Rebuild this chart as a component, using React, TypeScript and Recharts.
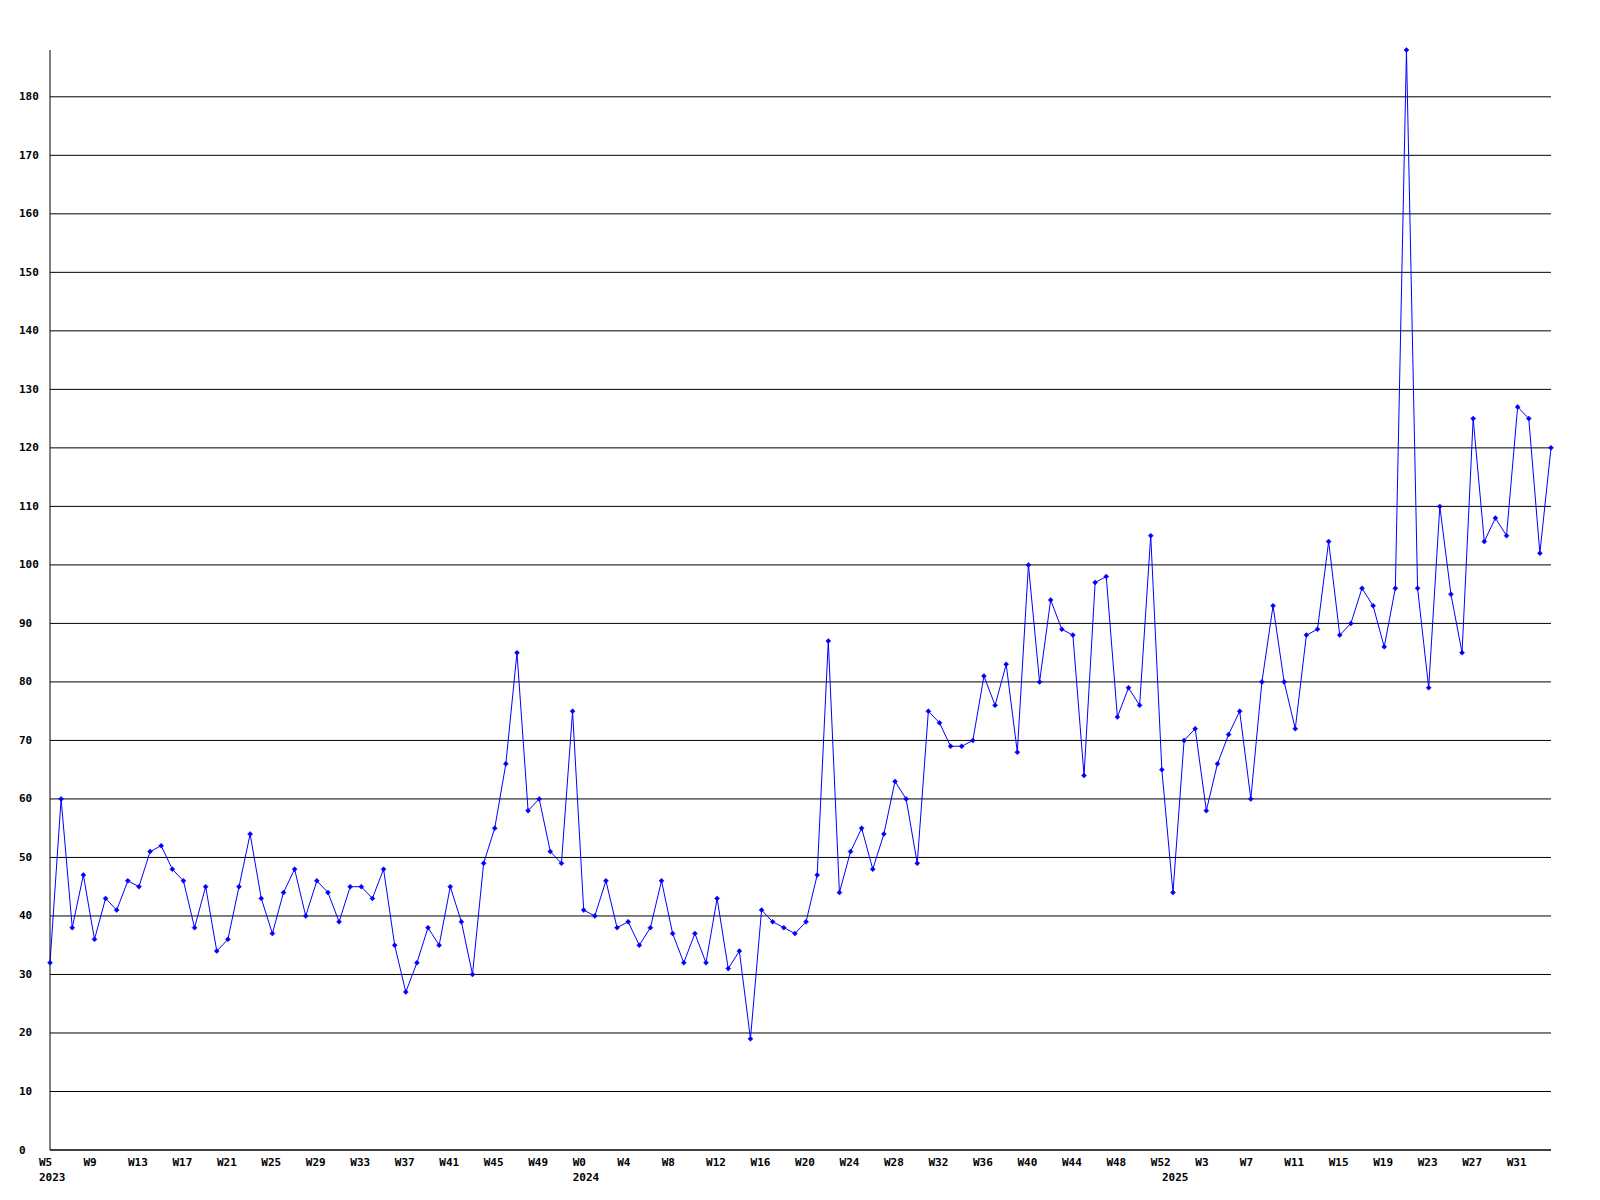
import React from "react";
import { LineChart, Line, XAxis, YAxis, ReferenceLine } from "recharts";

// weekly counts, 2023 starts at W5
const firstWeek2023 = 5;
const counts2023 = [
  32, 60, 38, 47, 36, 43, 41, 46, 45, 51, 52, 48, 46, 38, 45, 34, 36, 45, 54, 43, 37, 44, 48, 40,
  46, 44, 39, 45, 45, 43, 48, 35, 27, 32, 38, 35, 45, 39, 30, 49, 55, 66, 85, 58, 60, 51, 49, 75,
];
const counts2024 = [
  41, 40, 46, 38, 39, 35, 38, 46, 37, 32, 37, 32, 43, 31, 34, 19, 41, 39, 38, 37, 39, 47, 87, 44,
  51, 55, 48, 54, 63, 60, 49, 75, 73, 69, 69, 70, 81, 76, 83, 68, 100, 80, 94, 89, 88, 64, 97, 98,
  74, 79, 76, 105, 65,
];
const counts2025 = [
  44, 70, 72, 58, 66, 71, 75, 60, 80, 93, 80, 72, 88, 89, 104, 88, 90, 96, 93, 86, 96, 188, 96, 79,
  110, 95, 85, 125, 104, 108, 105, 127, 125, 102, 120,
];
const yTicks = [0, 10, 20, 30, 40, 50, 60, 70, 80, 90, 100, 110, 120, 130, 140, 150, 160, 170, 180];

type Pt = { i: number; week: number; year: number; value: number };

const data: Pt[] = [];
const pushYear = (year: number, start: number, vals: number[]) => {
  vals.forEach((v, k) => {
    data.push({ i: data.length, week: start + k, year, value: v });
  });
};
pushYear(2023, firstWeek2023, counts2023);
pushYear(2024, 0, counts2024);
pushYear(2025, 0, counts2025);

// every 4th point gets a week label, first point of each year gets the year
const xTicks = data
  .filter((d) => d.i % 4 === 0 || d.i === 0 || d.week === 0)
  .map((d) => d.i);

const FONT = "'DejaVu Sans Mono', monospace";

function XTick(props: any) {
  const { x, y, payload } = props;
  const d = data[payload.value];
  if (!d) return null;
  const showWeek = d.i % 4 === 0;
  const showYear = d.i === 0 || d.week === 0;
  return (
    <g>
      {showWeek && (
        <text x={x - 11} y={y + 12} textAnchor="start" dominantBaseline="central"
          fontFamily={FONT} fontSize={11} fontWeight="bold" fill="#000">
          {`W${d.week}`}
        </text>
      )}
      {showYear && (
        <text x={x - 11} y={y + 27} textAnchor="start" dominantBaseline="central"
          fontFamily={FONT} fontSize={11} fontWeight="bold" fill="#000">
          {d.year}
        </text>
      )}
    </g>
  );
}

function YTick(props: any) {
  const { y, payload } = props;
  return (
    <text x={19} y={y} textAnchor="start" dominantBaseline="central"
      fontFamily={FONT} fontSize={11} fontWeight="bold" fill="#000">
      {payload.value}
    </text>
  );
}

function Diamond(props: any) {
  const { cx, cy, index } = props;
  if (cx == null || cy == null) return <g key={index} />;
  const r = 2.5;
  return (
    <path
      key={index}
      d={`M${cx},${cy - r} L${cx + r},${cy} L${cx},${cy + r} L${cx - r},${cy} Z`}
      fill="#0000ff"
      stroke="#0000ff"
      strokeWidth={0.5}
    />
  );
}

export default function App() {
  return (
    <div style={{ position: "absolute", left: 0, top: 0, width: 1600, height: 1200, background: "#fff" }}>
      <LineChart width={1600} height={1200} data={data} margin={{ top: 50, right: 49, bottom: 0, left: 0 }}>
        <XAxis
          dataKey="i"
          type="number"
          domain={[0, data.length - 1]}
          ticks={xTicks}
          interval={0}
          height={50}
          tickLine={false}
          tickSize={0}
          tickMargin={0}
          axisLine={{ stroke: "#000" }}
          tick={<XTick />}
        />
        <YAxis
          domain={[0, "dataMax"]}
          ticks={yTicks}
          interval={0}
          width={50}
          tickLine={false}
          axisLine={{ stroke: "#000" }}
          tick={<YTick />}
        />
        {yTicks.map((t) => (
          <ReferenceLine key={t} y={t} stroke="#000" strokeWidth={1} />
        ))}
        <Line
          type="linear"
          dataKey="value"
          stroke="#0000ff"
          strokeWidth={1}
          dot={Diamond}
          activeDot={false}
          isAnimationActive={false}
        />
      </LineChart>
    </div>
  );
}
